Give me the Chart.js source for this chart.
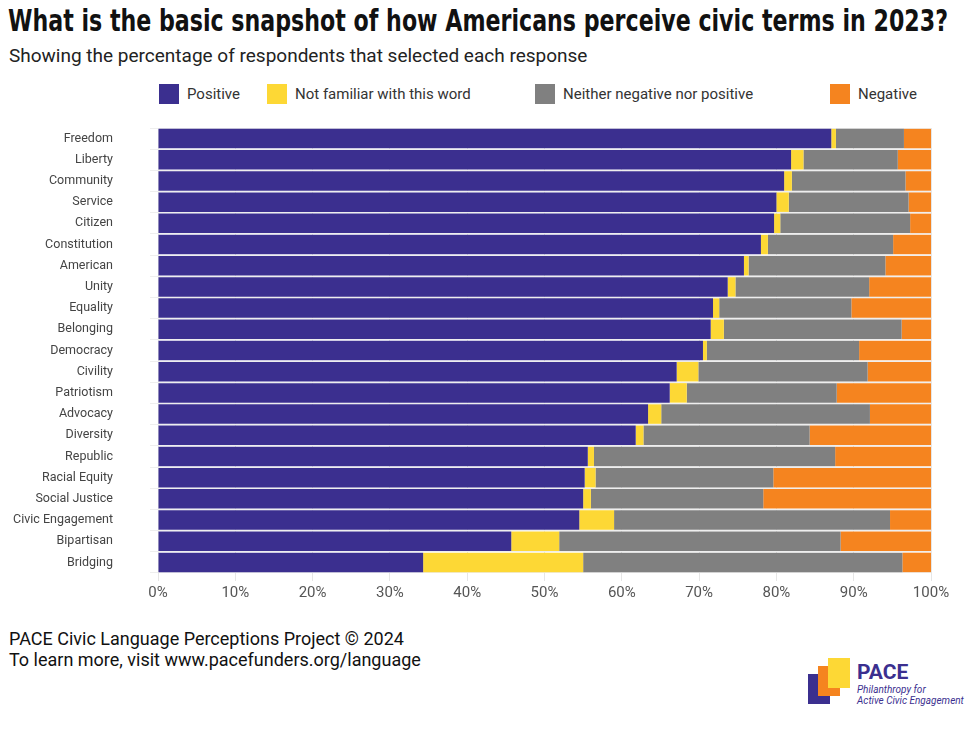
<!DOCTYPE html>
<html><head><meta charset="utf-8">
<script src="https://cdn.jsdelivr.net/npm/chart.js@4"></script>
<style>
body{margin:0;width:980px;height:735px;background:#fff;font-family:Roboto,sans-serif;position:relative;overflow:hidden}
#title{position:absolute;left:8px;top:3px;font:bold 30px "Liberation Sans Narrow","DejaVu Sans Condensed",sans-serif;color:#111;white-space:nowrap;transform-origin:left top}
#sub{position:absolute;left:9px;top:44px;font-size:19px;color:#222}
.lg{position:absolute;top:84px;font-size:15px;color:#333;display:flex;align-items:center}
.lg span{display:inline-block;width:20px;height:20px;margin-right:8px}
#foot{position:absolute;left:9px;top:628px;font-size:18px;color:#111;line-height:21px}
#wrap{position:absolute;left:0;top:118px;width:980px;height:487px}
</style></head><body>
<div id="title">What is the basic snapshot of how Americans perceive civic terms in 2023?</div>
<div id="sub">Showing the percentage of respondents that selected each response</div>
<div class="lg" style="left:159px"><span style="background:#3b2f8f"></span>Positive</div>
<div class="lg" style="left:267px"><span style="background:#fdd835"></span>Not familiar with this word</div>
<div class="lg" style="left:535px"><span style="background:#808080"></span>Neither negative nor positive</div>
<div class="lg" style="left:830px"><span style="background:#f5841f"></span>Negative</div>
<div id="wrap"><canvas id="c"></canvas></div>
<div id="foot">PACE Civic Language Perceptions Project © 2024<br>To learn more, visit www.pacefunders.org/language</div>
<div style="position:absolute;left:808px;top:674px;width:22px;height:30px;background:#3b2f8f"></div>
<div style="position:absolute;left:818px;top:666px;width:22px;height:30px;background:#f5841f"></div>
<div style="position:absolute;left:828px;top:658px;width:22px;height:30px;background:#fdd835"></div>
<div style="position:absolute;left:857px;top:660px;font:bold 21px Roboto;color:#3b2f8f">PACE</div>
<div style="position:absolute;left:857px;top:684px;font:italic 10px Roboto;color:#3b2f8f;line-height:11px">Philanthropy for<br>Active Civic Engagement</div>
<script>
const t=document.getElementById('title');const w=t.getBoundingClientRect().width;t.style.transform='scaleX('+(940/w)+')';
const categories=["Freedom","Liberty","Community","Service","Citizen","Constitution","American","Unity","Equality","Belonging","Democracy","Civility","Patriotism","Advocacy","Diversity","Republic","Racial Equity","Social Justice","Civic Engagement","Bipartisan","Bridging"];
const positive=[87.1,81.9,81.0,80.0,79.7,78.0,75.8,73.7,71.8,71.5,70.5,67.1,66.2,63.4,61.8,55.6,55.2,55.0,54.5,45.7,34.3];
const notFamiliar=[0.6,1.6,1.0,1.6,0.8,0.9,0.6,1.0,0.8,1.7,0.5,2.8,2.2,1.7,1.0,0.8,1.4,1.0,4.5,6.2,20.7];
const neither=[8.8,12.2,14.7,15.5,16.8,16.2,17.7,17.3,17.1,23.0,19.7,21.9,19.4,27.0,21.5,31.2,23.0,22.3,35.7,36.4,41.3];
const negative=[3.5,4.3,3.3,2.9,2.7,4.9,5.9,8.0,10.3,3.8,9.3,8.2,12.2,7.9,15.7,12.4,20.4,21.7,5.3,11.7,3.7];
const ticks=["0%","10%","20%","30%","40%","50%","60%","70%","80%","90%","100%"];
const ds=(l,d,c)=>({label:l,data:d,backgroundColor:c,borderWidth:0,barPercentage:1,categoryPercentage:0.92});
new Chart(document.getElementById('c'),{type:'bar',
data:{labels:categories,datasets:[ds('Positive',positive,'#3b2f8f'),ds('Not familiar with this word',notFamiliar,'#fdd835'),ds('Neither negative nor positive',neither,'#808080'),ds('Negative',negative,'#f5841f')]},
options:{indexAxis:'y',responsive:true,maintainAspectRatio:false,animation:false,
layout:{padding:{left:0,right:49,top:10,bottom:0}},
plugins:{legend:{display:false},tooltip:{enabled:false}},
scales:{x:{stacked:true,min:0,max:100,grid:{color:'#e6e6e6'},border:{display:false},
ticks:{stepSize:10,color:'#555',font:{size:15,family:'Roboto'},callback:(v,i)=>ticks[i]}},
y:{stacked:true,grid:{color:'#eeeeee'},border:{display:false},afterFit:s=>{s.width=158;s.paddingTop=0;s.paddingBottom=0;},ticks:{padding:37,color:'#444',font:{size:12.5,family:'Roboto'}}}}}});
</script></body></html>
